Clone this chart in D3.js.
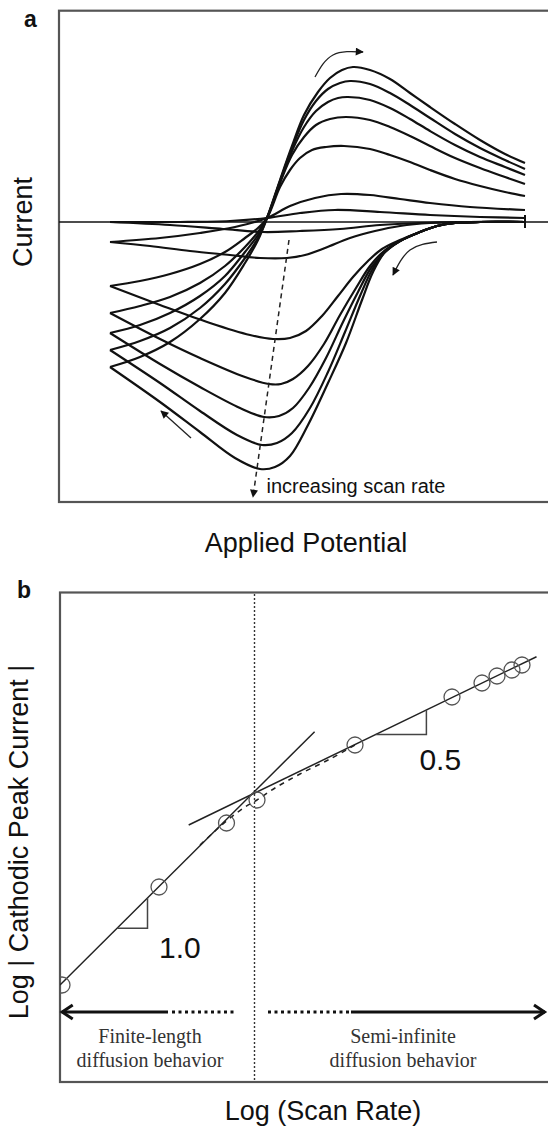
<!DOCTYPE html>
<html>
<head>
<meta charset="utf-8">
<script src="https://cdn.jsdelivr.net/npm/d3@7/dist/d3.min.js"></script>
<style>
body { margin: 0; background: #fff; }
svg { display: block; }
</style>
</head>
<body>
<script>
// ---- panel a : cyclic voltammograms (potential mV, current uA) ----
// forward (anodic) branches, one per scan rate, slow -> fast
var fwd2 = [[-200,0],[-60,0],[40,0.1],[114,0.4],[180,0.9],[250,1.2],[340,1.0],[440,0.7],[540,0.5],[630,0.4]];
var fwd3 = [[-200,-2.0],[-100,-1.6],[-20,-1.1],[50,-0.5],[114,0.4],[160,1.6],[210,2.4],[262,2.8],[320,2.7],[380,2.3],[440,1.9],[520,1.5],[630,1.2]];
var fwd4 = [[-200,-6.4],[-140,-5.9],[-80,-5.2],[-20,-4.2],[30,-3.0],[70,-1.6],[96,-0.6],[114,0.4],[140,3.5],[160,5.2],[180,6.4],[204,7.2],[232,7.5],[268,7.6],[320,7.3],[360,6.7],[400,6.0],[440,5.2],[490,4.3],[540,3.6],[590,3.0],[630,2.6]];
var fwd5 = [[-200,-9.1],[-140,-8.4],[-80,-7.5],[-20,-6.1],[30,-4.4],[70,-2.5],[96,-1.0],[114,0.4],[140,3.9],[164,6.7],[188,8.5],[212,9.7],[240,10.3],[272,10.5],[320,10.2],[360,9.5],[400,8.6],[440,7.6],[490,6.4],[540,5.4],[590,4.5],[630,3.8]];
var fwd6 = [[-200,-11.1],[-140,-10.3],[-80,-9.1],[-20,-7.4],[30,-5.4],[70,-3.0],[96,-1.3],[114,0.4],[140,4.0],[164,7.1],[188,9.5],[212,11.1],[236,12.0],[256,12.4],[276,12.5],[320,12.2],[360,11.4],[400,10.3],[440,9.1],[490,7.7],[540,6.5],[590,5.5],[630,4.7]];
var fwd7 = [[-200,-12.8],[-140,-11.9],[-80,-10.6],[-20,-8.6],[30,-6.2],[70,-3.6],[96,-1.6],[114,0.4],[140,4.1],[164,7.4],[188,10.2],[212,12.1],[236,13.3],[260,13.9],[280,14.1],[320,13.8],[360,12.9],[400,11.7],[440,10.4],[490,8.8],[540,7.4],[590,6.2],[630,5.3]];
var fwd8 = [[-200,-14.5],[-140,-13.5],[-80,-12.0],[-20,-9.7],[30,-7.1],[70,-4.1],[96,-1.8],[114,0.4],[140,4.2],[164,7.6],[188,10.7],[216,13.0],[240,14.4],[264,15.2],[286,15.5],[320,15.2],[360,14.3],[400,12.9],[440,11.5],[490,9.8],[540,8.2],[590,6.8],[630,5.9]];

// reverse (cathodic) branches, from the right vertex back to the left vertex
var rev2 = [[630,0],[520,0],[420,-0.1],[340,-0.3],[260,-0.7],[180,-0.9],[106,-1.0],[26,-0.7],[-80,-0.3],[-200,0]];
var rev3 = [[630,0],[520,0],[440,-0.1],[380,-0.4],[330,-0.9],[280,-1.6],[230,-2.6],[190,-3.3],[154,-3.6],[100,-3.6],[40,-3.3],[-40,-2.9],[-120,-2.4],[-200,-2.0]];
var rev4 = [[630,0],[540,0],[490,-0.1],[454,-0.4],[420,-1.0],[380,-1.8],[344,-2.7],[316,-3.9],[286,-5.5],[256,-7.4],[224,-9.4],[192,-10.9],[160,-11.6],[126,-11.7],[80,-11.3],[0,-10.1],[-100,-8.3],[-200,-6.4]];
var rev5 = [[630,0],[540,0],[490,-0.1],[454,-0.4],[420,-1.0],[380,-1.9],[348,-2.9],[320,-4.4],[292,-6.6],[260,-9.3],[228,-12.2],[196,-14.4],[166,-15.7],[142,-16.2],[118,-16.2],[70,-15.5],[-20,-13.6],[-100,-11.7],[-200,-9.1]];
var rev6 = [[630,0],[540,0],[490,-0.1],[454,-0.4],[420,-1.0],[380,-1.9],[350,-3.0],[322,-4.6],[296,-7.0],[266,-10.0],[232,-13.6],[198,-16.6],[166,-18.6],[138,-19.4],[108,-19.5],[60,-18.6],[-20,-16.5],[-100,-14.2],[-200,-11.1]];
var rev7 = [[630,0],[540,0],[490,-0.1],[454,-0.4],[420,-1.0],[380,-1.9],[350,-3.0],[324,-4.8],[300,-7.4],[270,-11.0],[236,-15.0],[200,-18.6],[164,-21.1],[134,-22.1],[104,-22.3],[54,-21.3],[-20,-18.9],[-100,-16.1],[-200,-12.8]];
var rev8 = [[630,0],[540,0],[490,-0.1],[454,-0.4],[420,-1.0],[380,-1.9],[350,-3.0],[326,-5.0],[304,-7.8],[272,-12.1],[236,-16.1],[196,-20.3],[160,-23.4],[130,-24.5],[100,-24.7],[50,-23.6],[-20,-21.0],[-100,-18.0],[-200,-14.5]];

var forward = [fwd2, fwd3, fwd4, fwd5, fwd6, fwd7, fwd8];
var reverse = [rev2, rev3, rev4, rev5, rev6, rev7, rev8];

// scan direction arrows and the peak-shift trend (same units)
var arrowUp = [[210,14.5],[246,16.7],[306,17.0]];
var arrowBack = [[454,-2.0],[400,-2.8],[366,-5.3]];
var arrowLeft = [[-38,-21.6],[-98,-18.9]];
var peakTrend = [[158,-1.8],[86,-27.5]];

// ---- panel b : log peak current vs log scan rate ----
var logRate = [0.02, 0.99, 1.665, 1.97, 2.95, 3.92, 4.22, 4.37, 4.52, 4.62];
var logPeak = [0.97, 1.95, 2.59, 2.82, 3.37, 3.85, 3.99, 4.06, 4.12, 4.17];
var fitSteep = [[0, 0.97], [2.546, 3.503]];
var fitShallow = [[1.287, 2.57], [4.765, 4.253]];
var transition = [[1.4,2.37],[1.665,2.61],[1.85,2.75],[1.97,2.82],[2.15,2.94],[2.4,3.08],[2.7,3.23],[2.95,3.37]];
var knee = 1.945;
var slopeTri = [[0.57, 0.875], [3.157, 3.664]];
var slopeLabels = ['1.0', '0.5'];
var slopeLabelAt = [[0.99, 1.24], [3.594, 3.12]];
var regimeY = 0.70;
var regimeLeft = [0.007, 1.08, 1.12, 1.76];   // tip, solid end, dots start, dots end
var regimeRight = [2.08, 2.89, 2.91, 4.86];   // dots start, dots end, solid start, tip
var regimeText = [['Finite-length', 'diffusion behavior'], ['Semi-infinite', 'diffusion behavior']];
var regimeTextX = [0.9, 3.43];

var W = 548, H = 1130;
var sans = '"Liberation Sans", Arial, Helvetica, sans-serif';
var serif = '"Liberation Serif", "Times New Roman", serif';

var svg = d3.select('body').append('svg')
  .attr('width', W)
  .attr('height', H);

var defs = svg.append('defs');
defs.append('marker')
  .attr('id', 'head')
  .attr('viewBox', '0 0 10 10')
  .attr('refX', 9).attr('refY', 5)
  .attr('markerUnits', 'userSpaceOnUse')
  .attr('markerWidth', 9).attr('markerHeight', 8)
  .attr('orient', 'auto')
  .append('path').attr('d', 'M0,0 L10,5 L0,10 z').attr('fill', '#111');
defs.append('clipPath').attr('id', 'clipB')
  .append('rect').attr('x', 60).attr('y', 592.5).attr('width', 500).attr('height', 489.5);

// ================= panel a =================
var xA = d3.scaleLinear().domain([-200, 630]).range([110, 525]);
var yA = d3.scaleLinear().domain([0, 10]).range([222, 122]);

var lineA = d3.line()
  .x(function(d) { return xA(d[0]); })
  .y(function(d) { return yA(d[1]); })
  .curve(d3.curveCatmullRom.alpha(0.5));

var ga = svg.append('g');

ga.append('rect')
  .attr('x', 59).attr('y', 10.7)
  .attr('width', 520).attr('height', 491.3)
  .attr('fill', 'none').attr('stroke', '#555').attr('stroke-width', 2.2);

// zero current line and end tick
ga.append('line')
  .attr('x1', 59).attr('x2', W)
  .attr('y1', yA(0)).attr('y2', yA(0))
  .attr('stroke', '#111').attr('stroke-width', 1.3);
ga.append('line')
  .attr('x1', xA(630)).attr('x2', xA(630))
  .attr('y1', yA(0.7)).attr('y2', yA(-0.6))
  .attr('stroke', '#111').attr('stroke-width', 2);

ga.selectAll('path.fwd')
  .data(forward).enter()
  .append('path').attr('class', 'fwd')
  .attr('d', lineA)
  .attr('fill', 'none').attr('stroke', '#111').attr('stroke-width', 2.2);

ga.selectAll('path.rev')
  .data(reverse).enter()
  .append('path').attr('class', 'rev')
  .attr('d', lineA)
  .attr('fill', 'none').attr('stroke', '#111').attr('stroke-width', 2.2);

var arcA = d3.line()
  .x(function(d) { return xA(d[0]); })
  .y(function(d) { return yA(d[1]); })
  .curve(d3.curveNatural);

[arrowUp, arrowBack, arrowLeft].forEach(function(a) {
  ga.append('path')
    .attr('d', arcA(a))
    .attr('fill', 'none').attr('stroke', '#222').attr('stroke-width', 1.3)
    .attr('marker-end', 'url(#head)');
});

ga.append('path')
  .attr('d', d3.line().x(function(d) { return xA(d[0]); }).y(function(d) { return yA(d[1]); })(peakTrend))
  .attr('fill', 'none').attr('stroke', '#222').attr('stroke-width', 1.5)
  .attr('stroke-dasharray', '5,4')
  .attr('marker-end', 'url(#head)');

ga.append('text')
  .attr('x', xA(113)).attr('y', yA(-27.1))
  .attr('font-family', sans).attr('font-size', 20).attr('fill', '#111')
  .text('increasing scan rate');

svg.append('text')
  .attr('x', 24).attr('y', 27)
  .attr('font-family', sans).attr('font-size', 23).attr('font-weight', 'bold').attr('fill', '#111')
  .text('a');

svg.append('text')
  .attr('transform', 'translate(32,' + yA(0) + ') rotate(-90)')
  .attr('text-anchor', 'middle')
  .attr('font-family', sans).attr('font-size', 27).attr('fill', '#111')
  .text('Current');

svg.append('text')
  .attr('x', 306).attr('y', 552)
  .attr('text-anchor', 'middle')
  .attr('font-family', sans).attr('font-size', 27).attr('fill', '#111')
  .text('Applied Potential');

// ================= panel b =================
var xB = d3.scaleLinear().domain([0, 5]).range([60, 560]);
var yB = d3.scaleLinear().domain([0, 5]).range([1082, 582]);

var lineB = d3.line()
  .x(function(d) { return xB(d[0]); })
  .y(function(d) { return yB(d[1]); });

var gb = svg.append('g');

gb.append('rect')
  .attr('x', 60).attr('y', 592.5)
  .attr('width', 500).attr('height', 489.5)
  .attr('fill', 'none').attr('stroke', '#555').attr('stroke-width', 2.2);

gb.append('line')
  .attr('x1', xB(knee)).attr('x2', xB(knee))
  .attr('y1', 594).attr('y2', 1081)
  .attr('stroke', '#333').attr('stroke-width', 1.4)
  .attr('stroke-dasharray', '2,2');

var inner = gb.append('g').attr('clip-path', 'url(#clipB)');

[fitSteep, fitShallow].forEach(function(f) {
  inner.append('path')
    .attr('d', lineB(f))
    .attr('fill', 'none').attr('stroke', '#222').attr('stroke-width', 1.5);
});

inner.append('path')
  .attr('d', lineB.curve(d3.curveCatmullRom)(transition))
  .attr('fill', 'none').attr('stroke', '#222').attr('stroke-width', 1.5)
  .attr('stroke-dasharray', '5,5');
lineB.curve(d3.curveLinear);

inner.selectAll('circle')
  .data(logRate).enter()
  .append('circle')
  .attr('cx', function(d) { return xB(d); })
  .attr('cy', function(d, i) { return yB(logPeak[i]); })
  .attr('r', 8)
  .attr('fill', 'none').attr('stroke', '#555').attr('stroke-width', 1.3);

// slope triangles
var fits = [fitSteep, fitShallow];
slopeTri.forEach(function(t, k) {
  var f = fits[k];
  var m = (f[1][1] - f[0][1]) / (f[1][0] - f[0][0]);
  var y0 = f[0][1] + m * (t[0] - f[0][0]);
  var y1 = f[0][1] + m * (t[1] - f[0][0]);
  inner.append('path')
    .attr('d', lineB([[t[0], y0], [t[1], y0], [t[1], y1]]))
    .attr('fill', 'none').attr('stroke', '#444').attr('stroke-width', 1.5);
  gb.append('text')
    .attr('x', xB(slopeLabelAt[k][0])).attr('y', yB(slopeLabelAt[k][1]))
    .attr('font-family', sans).attr('font-size', 30).attr('fill', '#111')
    .text(slopeLabels[k]);
});

// regime arrows
var ry = yB(regimeY);
gb.append('line')
  .attr('x1', xB(regimeLeft[0]) + 1).attr('x2', xB(regimeLeft[1]))
  .attr('y1', ry).attr('y2', ry)
  .attr('stroke', '#111').attr('stroke-width', 3);
gb.append('line')
  .attr('x1', xB(regimeLeft[2])).attr('x2', xB(regimeLeft[3]))
  .attr('y1', ry).attr('y2', ry)
  .attr('stroke', '#111').attr('stroke-width', 3)
  .attr('stroke-dasharray', '3,3.5');
gb.append('line')
  .attr('x1', xB(regimeRight[0])).attr('x2', xB(regimeRight[1]))
  .attr('y1', ry).attr('y2', ry)
  .attr('stroke', '#111').attr('stroke-width', 3)
  .attr('stroke-dasharray', '3,3.5');
gb.append('line')
  .attr('x1', xB(regimeRight[2])).attr('x2', xB(regimeRight[3]) - 1)
  .attr('y1', ry).attr('y2', ry)
  .attr('stroke', '#111').attr('stroke-width', 3);

var tl = xB(regimeLeft[0]), tr = xB(regimeRight[3]);
gb.append('path')
  .attr('d', 'M' + (tl + 12) + ',' + (ry - 7) + ' L' + (tl + 1.5) + ',' + ry + ' L' + (tl + 12) + ',' + (ry + 7))
  .attr('fill', 'none').attr('stroke', '#111').attr('stroke-width', 3);
gb.append('path')
  .attr('d', 'M' + (tr - 12) + ',' + (ry - 7) + ' L' + (tr - 1.5) + ',' + ry + ' L' + (tr - 12) + ',' + (ry + 7))
  .attr('fill', 'none').attr('stroke', '#111').attr('stroke-width', 3);

regimeText.forEach(function(lines, k) {
  var t = gb.append('text')
    .attr('text-anchor', 'middle')
    .attr('font-family', serif).attr('font-size', 20).attr('fill', '#333');
  lines.forEach(function(s, j) {
    t.append('tspan')
      .attr('x', xB(regimeTextX[k]))
      .attr('y', 1042.5 + j * 24.5)
      .text(s);
  });
});

svg.append('text')
  .attr('x', 17).attr('y', 598)
  .attr('font-family', sans).attr('font-size', 23).attr('font-weight', 'bold').attr('fill', '#111')
  .text('b');

svg.append('text')
  .attr('transform', 'translate(28,842) rotate(-90)')
  .attr('text-anchor', 'middle')
  .attr('font-family', sans).attr('font-size', 27).attr('fill', '#111')
  .text('Log | Cathodic Peak Current |');

svg.append('text')
  .attr('x', 323).attr('y', 1120)
  .attr('text-anchor', 'middle')
  .attr('font-family', sans).attr('font-size', 27).attr('fill', '#111')
  .text('Log (Scan Rate)');
</script>
</body>
</html>
